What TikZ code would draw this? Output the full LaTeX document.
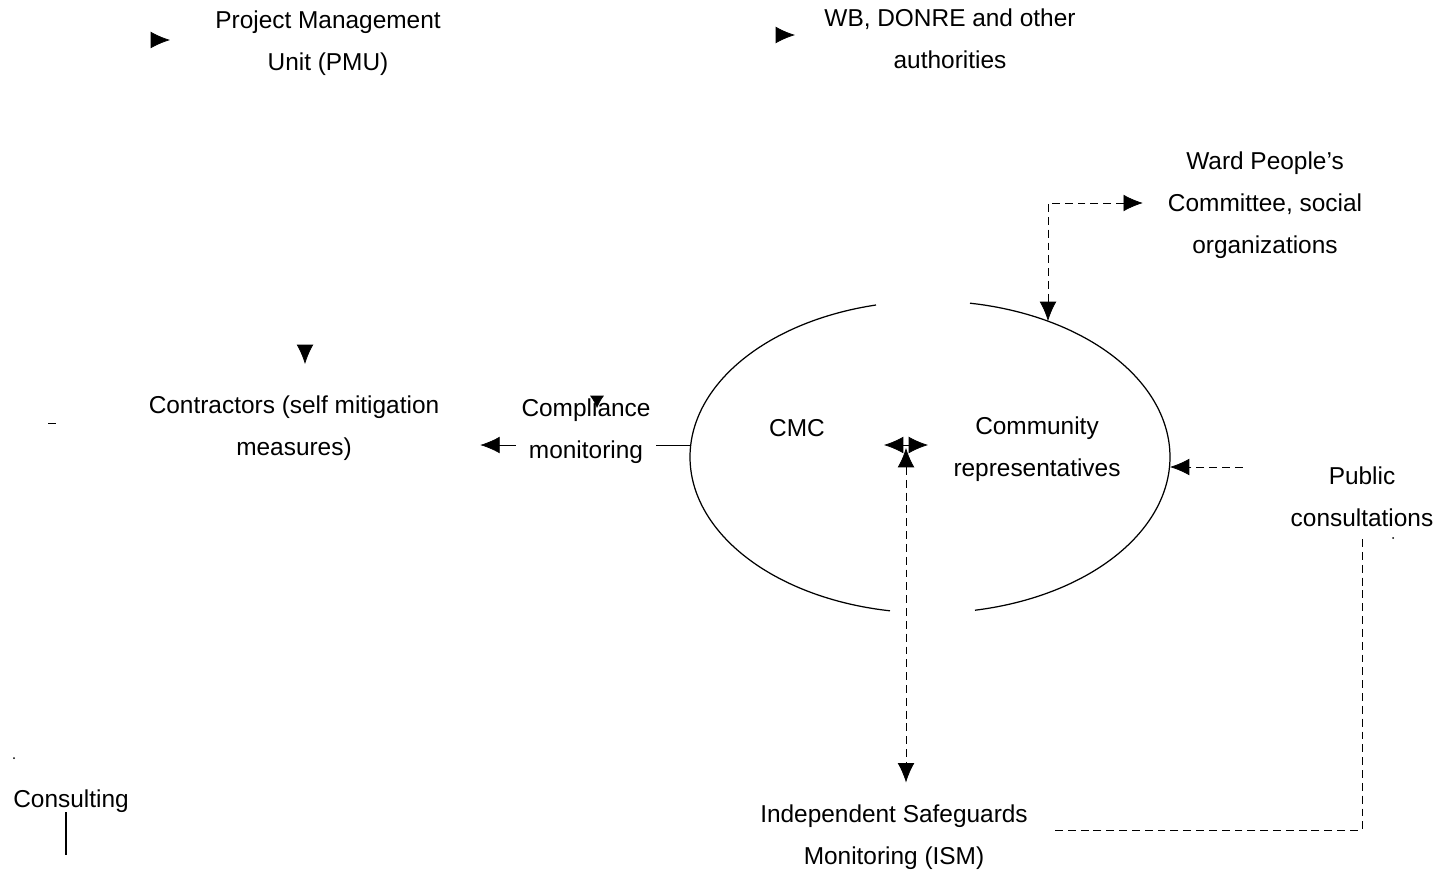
\documentclass[tikz,border=0pt]{standalone}
\usepackage{fontspec}
\setmainfont{Liberation Sans}
\usetikzlibrary{arrows.meta,calc}

\begin{document}
\begin{tikzpicture}[x=0.02cm,y=-0.02cm,
    lbl/.style={align=center,inner sep=1pt,font=\fontsize{13.9}{24}\selectfont},
    tip/.style={-{Latex[length=11pt,width=9.5pt]}},
    twoway/.style={{Latex[length=11pt,width=9.5pt]}-{Latex[length=11pt,width=9.5pt]}},
    dashline/.style={dash pattern=on 4.5pt off 2.8pt},
    oval/.style={line width=0.7pt}]
    \useasboundingbox (0,0) rectangle (1448,875);
    % texts
    \node[lbl] (pmu) at (328,43) {Project Management\\Unit (PMU)};
    \node[lbl] (wb) at (950,39) {WB, DONRE and other\\authorities};
    \node[lbl] (ward) at (1265,205) {Ward People's\\Committee, social\\organizations};
    \node[lbl] (contr) at (294,428) {Contractors (self mitigation\\measures)};
    \node[lbl] (cmc) at (797,428) {CMC};
    \node[lbl] (comm) at (1037,449) {Community\\representatives};
    \node[lbl] (public) at (1362,497) {Public\\consultations};
    \node[lbl] (ism) at (894,837) {Independent Safeguards\\Monitoring (ISM)};
    \node[lbl] (cons) at (71,801) {Consulting};
    % the oval, open at top and bottom
    \draw[oval] plot[domain=103:260.4,samples=90,smooth] ({930+240*cos(\x)},{457-156*sin(\x)});
    \draw[oval] plot[domain=-79.2:80.4,samples=90,smooth] ({930+240*cos(\x)},{457-156*sin(\x)});
    \coordinate (ewest) at (690,445);
    \coordinate (enorth) at (1048,321);
    \coordinate (eeast) at (1170,467);
    \coordinate (hub) at (906,445);
    % connectors
    \draw[tip,shorten >=0.78cm] (ewest) -- (contr.east |- ewest);
    \node[lbl,fill=white,inner xsep=3pt] (compl) at (586,431) {Compliance\\monitoring};
    \draw[dashline,twoway,shorten <=0.46cm] (ward.west |- 0,203) -- (1048,203) -- (enorth);
    \draw[dashline,tip,shorten <=0.92cm] (public.west |- eeast) -- (eeast);
    \draw[twoway] ($(hub)+(-22,0)$) -- ($(hub)+(22,0)$);
    \draw[dashline,twoway,shorten >=0.4cm] ($(hub)+(0,3)$) -- (ism.north -| hub);
    \draw[dashline,shorten <=0.2cm] (public.south) -- (public.south |- 0,830) -- ($(ism.east |- 0,830)+(24,0)$);
    \draw[line width=0.6pt] (66,812) -- (66,855);
    % stray marks
    \draw[tip] (156,40) -- (170,40);
    \draw[tip] (781,35) -- (795,35);
    \draw[tip] (305,348) -- (305,364);
    \draw[-{Latex[length=7pt,width=8pt]}] (597,398) -- (597,408);
    \draw (48,423) -- (56,423);
    \fill (14,758) circle (1);
    \fill (1393,538) circle (1);
\end{tikzpicture}
\end{document}
